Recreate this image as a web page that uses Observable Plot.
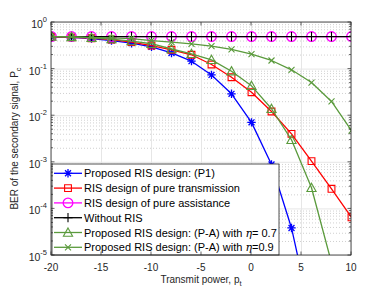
<!DOCTYPE html>
<html>
<head>
<meta charset="utf-8">
<script src="https://cdn.jsdelivr.net/npm/d3@7"></script>
<script src="https://cdn.jsdelivr.net/npm/@observablehq/plot@0.6"></script>
<style>
  html, body { margin: 0; padding: 0; background: #fff; }
  svg { display: block; }
</style>
</head>
<body>
<div id="chart"></div>
<script>
// ---------- data ----------
const powers = [-20, -18, -16, -14, -12, -10, -8, -6, -4, -2, 0, 2, 4, 6, 8, 10];
const berP1        = [0.49, 0.48, 0.45, 0.41, 0.36, 0.30, 0.222, 0.148, 0.075, 0.0295, 0.0072, 9.0e-4, 3.9e-5, 4.5e-7, null, null];
const berPureTrans = [0.49, 0.48, 0.46, 0.43, 0.38, 0.32, 0.26, 0.203, 0.1255, 0.067, 0.0319, 0.0123, 4.08e-3, 1.06e-3, 2.7e-4, 6.6e-5];
const berPureAssist= [0.5, 0.5, 0.5, 0.5, 0.5, 0.5, 0.5, 0.5, 0.5, 0.5, 0.5, 0.5, 0.5, 0.5, 0.5, 0.5];
const berNoRIS     = [0.5, 0.5, 0.5, 0.5, 0.5, 0.5, 0.5, 0.5, 0.5, 0.5, 0.5, 0.5, 0.5, 0.5, 0.5, 0.5];
const berPA07      = [0.5, 0.49, 0.47, 0.44, 0.40, 0.35, 0.27, 0.213, 0.158, 0.090, 0.0438, 0.0141, 3.04e-3, 2.84e-4, 7e-6, null];
const berPA09      = [0.5, 0.49, 0.48, 0.47, 0.45, 0.41, 0.38, 0.349, 0.31, 0.264, 0.209, 0.153, 0.0966, 0.0515, 0.0202, 0.0048];

const seriesNames = [
  "Proposed RIS design: (P1)",
  "RIS design of pure transmission",
  "RIS design of pure assistance",
  "Without RIS",
  "Proposed RIS design: (P-A) with |η|= 0.7",
  "Proposed RIS design: (P-A) with |η|=0.9"
];
const xTicks = [-20, -15, -10, -5, 0, 5, 10];
const xTickLabels = ["-20", "-15", "-10", "-5", "0", "5", "10"];
const yTicks = [1, 1e-1, 1e-2, 1e-3, 1e-4, 1e-5];
const yTickExponents = ["0", "-1", "-2", "-3", "-4", "-5"];
const xLabel = ["Transmit power, p", "t"];
const yLabel = ["BER of the secondary signal, P", "c"];

// minor log ticks 2..9 x 10^k
const yMinor = [];
for (let k = -5; k < 0; k++) for (let m = 2; m <= 9; m++) yMinor.push(m * Math.pow(10, k));

// ---------- symbols (MATLAB-like markers) ----------
const R = s => Math.sqrt(s / Math.PI);
const symAsterisk = {draw(c, s) { const r = R(s), d = r * Math.SQRT1_2;
  c.moveTo(-r, 0); c.lineTo(r, 0); c.moveTo(0, -r); c.lineTo(0, r);
  c.moveTo(-d, -d); c.lineTo(d, d); c.moveTo(-d, d); c.lineTo(d, -d); }};
const symSquare = {draw(c, s) { const r = R(s); c.moveTo(-r, -r); c.lineTo(r, -r); c.lineTo(r, r); c.lineTo(-r, r); c.closePath(); }};
const symCircle = {draw(c, s) { const r = R(s); c.moveTo(r, 0); c.arc(0, 0, r, 0, 2 * Math.PI); c.closePath(); }};
const symPlus = {draw(c, s) { const r = R(s); c.moveTo(-r, 0); c.lineTo(r, 0); c.moveTo(0, -r); c.lineTo(0, r); }};
const symTriangle = {draw(c, s) { const r = R(s); c.moveTo(0, -r); c.lineTo(r, 0.8 * r); c.lineTo(-r, 0.8 * r); c.closePath(); }};
const symTimes = {draw(c, s) { const r = R(s); c.moveTo(-r, -r); c.lineTo(r, r); c.moveTo(-r, r); c.lineTo(r, -r); }};

const green = "#5a9a3c";
const series = [
  {values: berP1,         color: "#0000ff", symbol: symAsterisk, r: 4.2, sw: 1.3},
  {values: berPureTrans,  color: "#ff0000", symbol: symSquare,   r: 3.4, sw: 1.1},
  {values: berPureAssist, color: "#ff00ff", symbol: symCircle,   r: 4.8, sw: 1.3},
  {values: berNoRIS,      color: "#000000", symbol: symPlus,     r: 4.6, sw: 1.1},
  {values: berPA07,       color: green,     symbol: symTriangle, r: 4.6, sw: 1.1},
  {values: berPA09,       color: green,     symbol: symTimes,    r: 3.0, sw: 1.1}
];
series.forEach((s, i) => s.name = seriesNames[i]);

const rowsOf = s => powers.map((x, i) => ({x, y: s.values[i]})).filter(d => d.y != null);

const lineMarks = [];
for (const s of series) {
  const rows = rowsOf(s);
  lineMarks.push(Plot.line(rows, {x: "x", y: "y", stroke: s.color, strokeWidth: 1.3, clip: true}));
  lineMarks.push(Plot.dot(rows, {x: "x", y: "y", symbol: s.symbol, r: s.r, stroke: s.color, strokeWidth: s.sw, fill: "none", clip: true}));
}

const font = "'Liberation Sans', Arial, Helvetica, sans-serif";
const axisColor = "#262626";

const plot = Plot.plot({
  width: 388,
  height: 291,
  marginTop: 22,
  marginRight: 37,
  marginBottom: 36,
  marginLeft: 51,
  style: {fontFamily: font, background: "#fff", overflow: "visible"},
  x: {domain: [-20, 10], axis: null},
  y: {type: "log", domain: [1e-5, 1], axis: null},
  marks: [
    Plot.ruleY(yMinor, {stroke: "#c4c4c4", strokeWidth: 0.8, strokeDasharray: "1,2"}),
    Plot.ruleY(yTicks, {stroke: "#e6e6e6", strokeWidth: 1}),
    Plot.ruleX(xTicks, {stroke: "#e6e6e6", strokeWidth: 1}),
    ...lineMarks
  ]
});
document.getElementById("chart").appendChild(plot);

// ---------- axes, frame, labels, legend ----------
const svg = d3.select(plot);
const X = plot.scale("x"), Y = plot.scale("y");
const x0 = X.apply(-20), x1 = X.apply(10), yTop = Y.apply(1), yBot = Y.apply(1e-5);
const g = svg.append("g");

// legend
const legX = x0 + 1, legY = 164, legW = 279 - legX, legH = yBot - legY;
const lg = g.append("g").attr("text-anchor", "start");
lg.append("rect").attr("x", legX).attr("y", legY).attr("width", legW).attr("height", legH)
  .attr("fill", "#fff").attr("stroke", axisColor).attr("stroke-width", 0.8);
series.forEach((s, i) => {
  const cy = legY + 9.3 + i * 14.8;
  lg.append("line").attr("x1", legX + 2).attr("x2", legX + 30).attr("y1", cy).attr("y2", cy)
    .attr("stroke", s.color).attr("stroke-width", 1.3);
  lg.append("path").attr("transform", `translate(${legX + 16},${cy})`)
    .attr("d", d3.symbol().type(s.symbol).size(Math.PI * s.r * s.r)())
    .attr("fill", "none").attr("stroke", s.color).attr("stroke-width", s.sw);
  const t = lg.append("text").attr("x", legX + 32).attr("y", cy + 4).attr("text-anchor", "start")
    .attr("font-size", 11).attr("fill", "#000").attr("font-family", font);
  s.name.split("|").forEach((part, j) => {
    const ts = t.append("tspan").text(part);
    if (part === "η") ts.attr("font-style", "italic").attr("font-family", "'DejaVu Serif', serif");
  });
});

// frame
g.append("rect").attr("x", x0).attr("y", yTop).attr("width", x1 - x0).attr("height", yBot - yTop)
  .attr("fill", "none").attr("stroke", axisColor).attr("stroke-width", 0.8);

// ticks (inward, on all four sides)
const tk = g.append("g").attr("stroke", axisColor).attr("stroke-width", 0.7);
xTicks.forEach(v => {
  const px = X.apply(v);
  tk.append("line").attr("x1", px).attr("x2", px).attr("y1", yBot).attr("y2", yBot - 3.5);
  tk.append("line").attr("x1", px).attr("x2", px).attr("y1", yTop).attr("y2", yTop + 3.5);
});
yTicks.forEach(v => {
  const py = Y.apply(v);
  tk.append("line").attr("x1", x0).attr("x2", x0 + 3.5).attr("y1", py).attr("y2", py);
  tk.append("line").attr("x1", x1).attr("x2", x1 - 3.5).attr("y1", py).attr("y2", py);
});
yMinor.forEach(v => {
  const py = Y.apply(v);
  tk.append("line").attr("x1", x0).attr("x2", x0 + 2).attr("y1", py).attr("y2", py);
  tk.append("line").attr("x1", x1).attr("x2", x1 - 2).attr("y1", py).attr("y2", py);
});

// tick labels
const lab = g.append("g").attr("fill", axisColor).attr("font-family", font);
xTicks.forEach((v, i) => {
  lab.append("text").attr("x", X.apply(v)).attr("y", yBot + 16).attr("text-anchor", "middle")
    .attr("font-size", 10).text(xTickLabels[i]);
});
yTicks.forEach((v, i) => {
  const t = lab.append("text").attr("x", x0 - 4).attr("y", Y.apply(v) + 6).attr("text-anchor", "end")
    .attr("font-size", 10.5);
  t.append("tspan").text("10");
  t.append("tspan").attr("font-size", 7.5).attr("dy", -6).text(yTickExponents[i]);
});

// axis titles
const cx = (x0 + x1) / 2;
const xt = lab.append("text").attr("x", cx).attr("y", yBot + 28).attr("text-anchor", "middle").attr("font-size", 10);
xt.append("tspan").text(xLabel[0]);
xt.append("tspan").attr("font-size", 7.5).attr("dy", 3).text(xLabel[1]);

const cy = (yTop + yBot) / 2;
const yt = lab.append("text").attr("transform", `translate(17.5,${cy}) rotate(-90)`).attr("text-anchor", "middle").attr("font-size", 10);
yt.append("tspan").text(yLabel[0]);
yt.append("tspan").attr("font-size", 7.5).attr("dy", 3).text(yLabel[1]);
</script>
</body>
</html>
